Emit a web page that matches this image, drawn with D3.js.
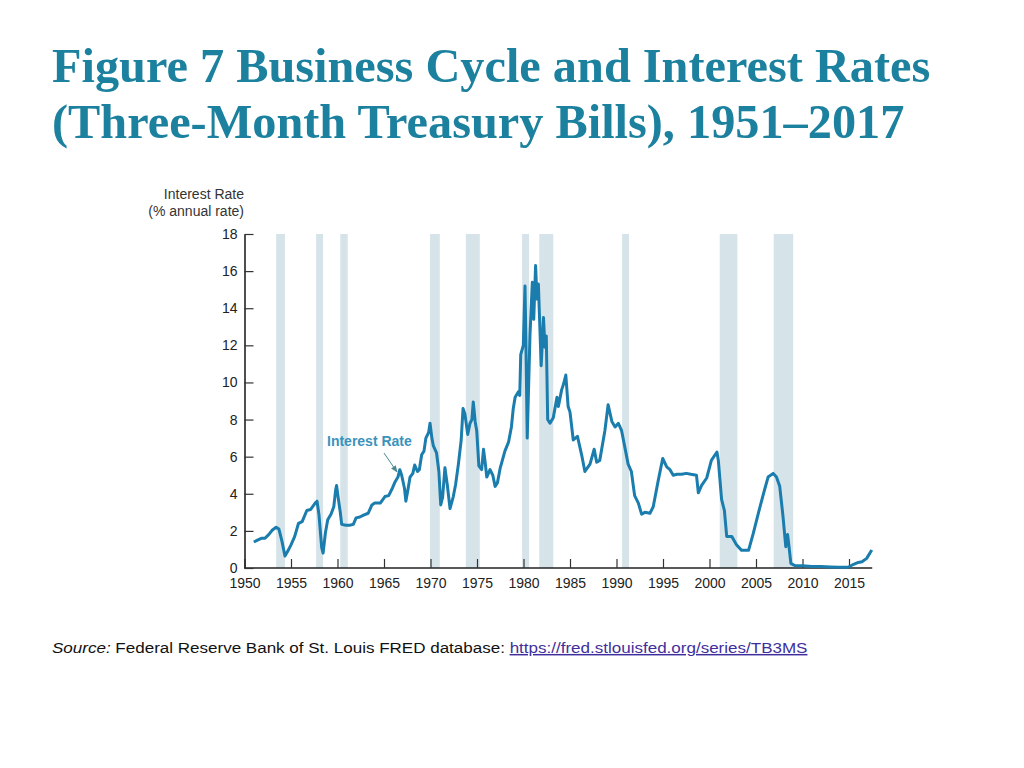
<!DOCTYPE html>
<html>
<head>
<meta charset="utf-8">
<script src="https://cdn.jsdelivr.net/npm/d3@7"></script>
<style>
  body { margin: 0; background: #fff; }
  svg { display: block; }
</style>
</head>
<body>
<div id="chart"></div>
<script>
/* Business cycle and T-bill rate chart */

const years = [
  1951.0, 1951.4, 1951.8, 1952.2, 1952.6, 1953.0, 1953.4, 1953.7, 1954.0, 1954.35,
  1954.7, 1955.0, 1955.4, 1955.8, 1956.2, 1956.7, 1957.1, 1957.6, 1957.8, 1958.0,
  1958.3, 1958.45, 1958.7, 1958.95, 1959.3, 1959.6, 1959.8, 1959.9, 1960.1, 1960.3,
  1960.45, 1960.9, 1961.3, 1961.7, 1962.0, 1962.4, 1962.8, 1963.3, 1963.7, 1964.0,
  1964.6, 1965.1, 1965.5, 1965.9, 1966.2, 1966.5, 1966.7, 1966.9, 1967.2, 1967.35,
  1967.6, 1967.8, 1968.1, 1968.3, 1968.6, 1968.8, 1969.05, 1969.3, 1969.5, 1969.8,
  1969.95, 1970.15, 1970.3, 1970.65, 1970.9, 1971.1, 1971.3, 1971.55, 1971.8, 1972.1,
  1972.45, 1972.7, 1973.0, 1973.3, 1973.5, 1973.7, 1974.0, 1974.25, 1974.45, 1974.6,
  1974.8, 1974.97, 1975.2, 1975.5, 1975.7, 1975.9, 1976.05, 1976.4, 1976.7, 1976.95,
  1977.2, 1977.5, 1978.0, 1978.4, 1978.7, 1978.9, 1979.1, 1979.45, 1979.6, 1979.7,
  1979.98, 1980.16, 1980.25, 1980.4, 1980.7, 1980.95, 1981.1, 1981.3, 1981.45, 1981.6,
  1981.9, 1982.15, 1982.3, 1982.45, 1982.6, 1982.85, 1983.2, 1983.6, 1983.75, 1984.1,
  1984.3, 1984.55, 1984.8, 1985.0, 1985.35, 1985.8, 1986.25, 1986.6, 1987.15, 1987.6,
  1987.87, 1988.2, 1988.75, 1989.1, 1989.5, 1989.85, 1990.2, 1990.55, 1990.9, 1991.25,
  1991.6, 1991.95, 1992.35, 1992.7, 1993.05, 1993.6, 1993.95, 1994.5, 1994.97, 1995.4,
  1995.75, 1996.1, 1996.5, 1997.0, 1997.5, 1998.0, 1998.6, 1998.8, 1999.15, 1999.7,
  2000.2, 2000.8, 2000.95, 2001.3, 2001.6, 2001.85, 2002.4, 2002.9, 2003.45, 2004.2,
  2004.7, 2005.25, 2005.8, 2006.3, 2006.85, 2007.2, 2007.55, 2007.9, 2008.2, 2008.4,
  2008.55, 2008.75, 2009.2, 2010.0, 2011.0, 2012.0, 2013.0, 2014.0, 2014.9, 2015.5,
  2016.0, 2016.4, 2016.9, 2017.45
];

const rates = [
  1.4, 1.5, 1.6, 1.6, 1.8, 2.05, 2.2, 2.1, 1.5, 0.65,
  0.95, 1.25, 1.7, 2.4, 2.5, 3.1, 3.15, 3.5, 3.6, 2.9,
  1.1, 0.8, 1.9, 2.6, 2.9, 3.3, 4.2, 4.45, 3.7, 3.0,
  2.35, 2.3, 2.3, 2.35, 2.7, 2.75, 2.85, 2.95, 3.4, 3.5,
  3.5, 3.85, 3.9, 4.3, 4.65, 4.9, 5.3, 5.0, 4.3, 3.6,
  4.3, 4.9, 5.1, 5.55, 5.2, 5.3, 6.1, 6.3, 7.0, 7.3,
  7.8, 7.0, 6.6, 6.2, 5.2, 3.4, 3.8, 5.4, 4.5, 3.2,
  3.85, 4.5, 5.6, 6.9, 8.6, 8.3, 7.2, 7.8, 8.0, 8.95,
  7.9, 7.4, 5.5, 5.3, 6.4, 5.6, 4.9, 5.3, 5.0, 4.4,
  4.6, 5.4, 6.3, 6.8, 7.6, 8.6, 9.2, 9.5, 9.3, 11.5,
  12.0, 15.2, 12.5, 7.0, 12.6, 15.4, 13.4, 16.3, 14.5, 15.3,
  10.9, 13.5, 11.9, 12.5, 8.0, 7.8, 8.1, 9.2, 8.7, 9.6,
  9.9, 10.4, 8.7, 8.4, 6.9, 7.1, 6.1, 5.2, 5.6, 6.4,
  5.7, 5.8, 7.4, 8.8, 7.9, 7.6, 7.8, 7.4, 6.5, 5.6,
  5.2, 3.9, 3.5, 2.9, 3.0, 2.95, 3.3, 4.75, 5.9, 5.45,
  5.3, 5.0, 5.05, 5.05, 5.1, 5.05, 5.0, 4.05, 4.45, 4.85,
  5.8, 6.25, 5.8, 3.7, 3.1, 1.7, 1.7, 1.25, 0.95, 0.95,
  1.85, 2.95, 4.0, 4.9, 5.1, 4.9, 4.4, 2.8, 1.15, 1.8,
  1.15, 0.25, 0.12, 0.12, 0.08, 0.08, 0.06, 0.04, 0.04, 0.2,
  0.3, 0.34, 0.52, 0.97
];

// recession bands (shaded)
const recessionStart = [1953.4, 1957.7, 1960.3, 1969.95, 1973.8, 1979.85, 1981.7, 1990.6, 2001.1, 2006.9];
const recessionEnd   = [1954.35, 1958.45, 1961.1, 1971.0, 1975.3, 1980.6, 1983.2, 1991.35, 2003.0, 2009.0];

const xTicks = [1950, 1955, 1960, 1965, 1970, 1975, 1980, 1985, 1990, 1995, 2000, 2005, 2010, 2015];
const yTicks = [0, 2, 4, 6, 8, 10, 12, 14, 16, 18];

const W = 1024, H = 768;
const sans = "'Liberation Sans', Arial, Helvetica, sans-serif";

const svg = d3.select("#chart").append("svg")
  .attr("width", W)
  .attr("height", H);

// Title
const title = svg.append("text")
  .attr("font-family", "'Liberation Serif', 'Times New Roman', serif")
  .attr("font-weight", "bold")
  .attr("font-size", 48.3)
  .attr("fill", "#1b819e");
title.append("tspan").attr("x", 52).attr("y", 82).text("Figure 7 Business Cycle and Interest Rates");
title.append("tspan").attr("x", 52).attr("y", 138).text("(Three-Month Treasury Bills), 1951\u20132017");

const x = d3.scaleLinear().domain([1950, 2017.5]).range([244.5, 872.25]);
const y = d3.scaleLinear().domain([0, 18]).range([568, 234]);

// Recession shading
svg.append("g")
  .selectAll("rect")
  .data(recessionStart.map((s, i) => ({ s, e: recessionEnd[i] })))
  .join("rect")
  .attr("x", d => x(d.s))
  .attr("width", d => x(d.e) - x(d.s))
  .attr("y", y(18))
  .attr("height", y(0) - y(18))
  .attr("fill", "#d6e4e9");

// Axes
svg.append("g")
  .attr("transform", `translate(0, ${y(0)})`)
  .call(d3.axisBottom(x).tickValues(xTicks).tickFormat(d3.format("d")).tickSizeInner(-9).tickSizeOuter(0).tickPadding(10))
  .call(g => g.select(".domain").attr("stroke", "#222").attr("stroke-width", 1.6).attr("d", `M${x(1950)},0H${x(2017.5)}`))
  .call(g => g.selectAll(".tick line").attr("stroke", "#333").attr("stroke-width", 1.2))
  .call(g => g.selectAll("text").attr("fill", "#222").attr("font-size", 14).attr("font-family", sans));

svg.append("g")
  .attr("transform", `translate(${x(1950)}, 0)`)
  .call(d3.axisLeft(y).tickValues(yTicks).tickSizeInner(-9).tickSizeOuter(0).tickPadding(7))
  .call(g => g.select(".domain").attr("stroke", "#222").attr("stroke-width", 1.6))
  .call(g => g.selectAll(".tick line").attr("stroke", "#333").attr("stroke-width", 1.2))
  .call(g => g.selectAll("text").attr("fill", "#222").attr("font-size", 14).attr("font-family", sans));

// Y axis title
const yt = svg.append("text")
  .attr("text-anchor", "end")
  .attr("font-family", sans)
  .attr("font-size", 14)
  .attr("fill", "#333");
yt.append("tspan").attr("x", 244).attr("y", 199).text("Interest Rate");
yt.append("tspan").attr("x", 244).attr("y", 216).text("(% annual rate)");

// Interest rate line
const line = d3.line()
  .x(d => x(d[0]))
  .y(d => y(d[1]));

svg.append("path")
  .datum(years.map((yr, i) => [yr, rates[i]]))
  .attr("d", line)
  .attr("fill", "none")
  .attr("stroke", "#1a7dad")
  .attr("stroke-width", 3)
  .attr("stroke-linejoin", "round");

// Annotation
svg.append("defs").append("marker")
  .attr("id", "arrow")
  .attr("viewBox", "0 0 10 10")
  .attr("refX", 9).attr("refY", 5)
  .attr("markerWidth", 7).attr("markerHeight", 7)
  .attr("orient", "auto")
  .append("path")
  .attr("d", "M0,1L10,5L0,9z")
  .attr("fill", "#4b8a8f");

svg.append("text")
  .attr("x", 327)
  .attr("y", 446)
  .attr("font-family", sans)
  .attr("font-weight", "bold")
  .attr("font-size", 14)
  .attr("fill", "#3a93bb")
  .text("Interest Rate");

svg.append("line")
  .attr("x1", 384).attr("y1", 453)
  .attr("x2", 397).attr("y2", 472)
  .attr("stroke", "#4b8a8f")
  .attr("stroke-width", 1)
  .attr("marker-end", "url(#arrow)");

// Source line (slightly stretched horizontally like the original slide)
const src = svg.append("text")
  .attr("transform", "translate(52, 653) scale(1.135, 1)")
  .attr("font-family", sans)
  .attr("font-size", 15)
  .attr("fill", "#111");
src.append("tspan").attr("font-style", "italic").text("Source:");
src.append("tspan").text(" Federal Reserve Bank of St. Louis FRED database: ");
src.append("tspan")
  .attr("fill", "#3f2f9c")
  .attr("text-decoration", "underline")
  .text("https://fred.stlouisfed.org/series/TB3MS");
</script>
</body>
</html>
